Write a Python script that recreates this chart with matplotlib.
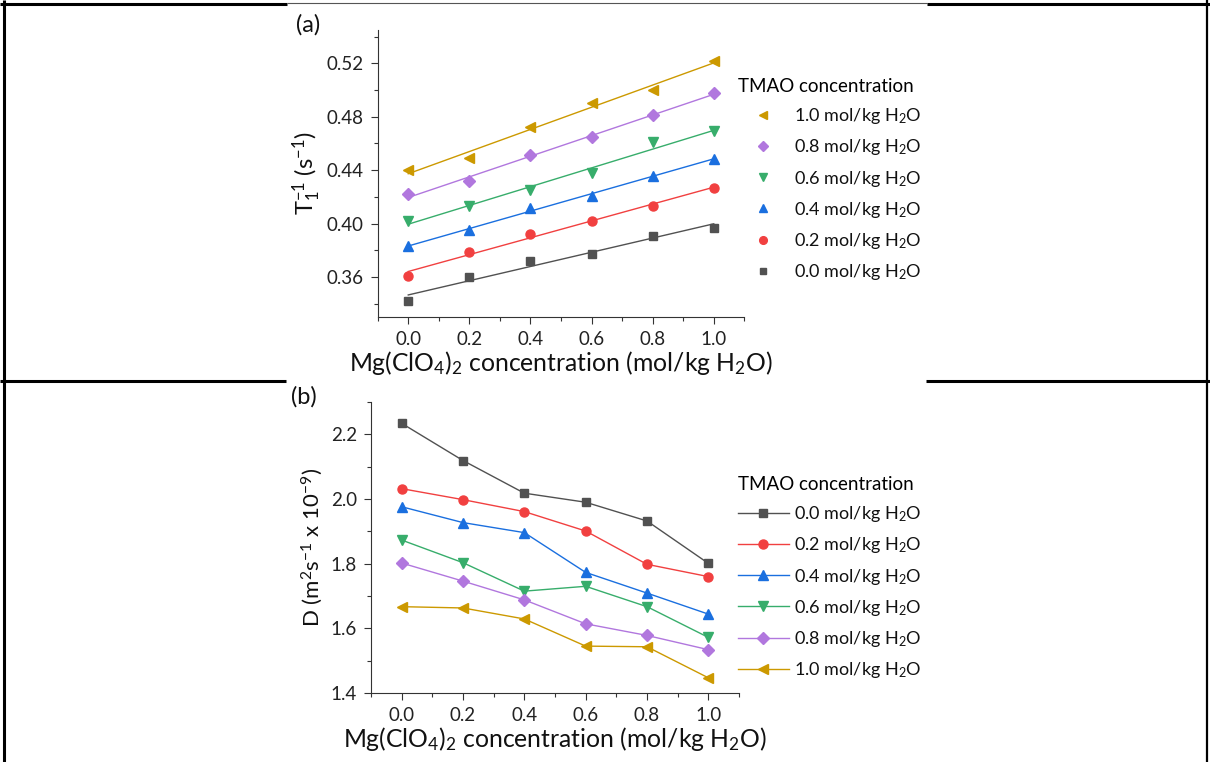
import numpy as np
import matplotlib.pyplot as plt
from matplotlib.lines import Line2D
from matplotlib.ticker import MultipleLocator, FormatStrFormatter

plt.rcParams['font.family'] = ['Lato', 'DejaVu Sans']
plt.rcParams['mathtext.fontset'] = 'custom'
plt.rcParams['mathtext.rm'] = 'Lato'
plt.rcParams['mathtext.it'] = 'Lato:italic'
plt.rcParams['mathtext.bf'] = 'Lato:bold'

# Mg(ClO4)2 concentration, mol/kg H2O
mg = [0.0, 0.2, 0.4, 0.6, 0.8, 1.0]
tmao = ['0.0', '0.2', '0.4', '0.6', '0.8', '1.0']

# (a) relaxation rate T1^-1 (s^-1), one list per TMAO concentration
t1_tmao00 = [0.342, 0.360, 0.372, 0.377, 0.391, 0.397]
t1_tmao02 = [0.361, 0.379, 0.392, 0.402, 0.413, 0.427]
t1_tmao04 = [0.383, 0.395, 0.412, 0.421, 0.436, 0.448]
t1_tmao06 = [0.402, 0.413, 0.425, 0.438, 0.461, 0.469]
t1_tmao08 = [0.422, 0.432, 0.451, 0.465, 0.481, 0.498]
t1_tmao10 = [0.440, 0.449, 0.472, 0.490, 0.500, 0.522]

# (b) diffusion coefficient D (m^2 s^-1 x 10^-9)
d_tmao00 = [2.234, 2.119, 2.018, 1.990, 1.932, 1.801]
d_tmao02 = [2.032, 1.998, 1.961, 1.901, 1.798, 1.760]
d_tmao04 = [1.976, 1.927, 1.896, 1.773, 1.709, 1.644]
d_tmao06 = [1.873, 1.803, 1.715, 1.730, 1.667, 1.572]
d_tmao08 = [1.802, 1.746, 1.688, 1.614, 1.578, 1.534]
d_tmao10 = [1.667, 1.663, 1.629, 1.545, 1.543, 1.447]

t1_all = [t1_tmao00, t1_tmao02, t1_tmao04, t1_tmao06, t1_tmao08, t1_tmao10]
d_all = [d_tmao00, d_tmao02, d_tmao04, d_tmao06, d_tmao08, d_tmao10]

# origin-ish default palette
colors = ['#515151', '#F14040', '#1A6FDF', '#37AD6B', '#B177DE', '#CC9900']
markers = ['s', 'o', '^', 'v', 'D', '<']
msizes = [5.5, 6.5, 7.5, 7.5, 6.0, 7.5]

W, H = 1210, 762
fig = plt.figure(figsize=(W / 100, H / 100), dpi=100)


def fx(px):
    return px / W


def fy(py):
    return 1 - py / H


ax1 = fig.add_axes([fx(377.7), fy(317), fx(744.3) - fx(377.7), (317 - 30) / H])
ax2 = fig.add_axes([fx(371), fy(693), fx(739) - fx(371), (693 - 402) / H])

xlabel = 'Mg(ClO$_4$)$_2$ concentration (mol/kg H$_2$O)'

for ax in (ax1, ax2):
    for s in ('top', 'right'):
        ax.spines[s].set_visible(False)
    for s in ('left', 'bottom'):
        ax.spines[s].set_color('#333333')
        ax.spines[s].set_linewidth(0.8)
    ax.set_xlim(-0.1, 1.1)
    ax.xaxis.set_major_locator(MultipleLocator(0.2))
    ax.xaxis.set_minor_locator(MultipleLocator(0.1))
    ax.xaxis.set_major_formatter(FormatStrFormatter('%.1f'))
    ax.tick_params(which='major', length=5, width=0.8, color='#333333',
                   labelsize=13.5, pad=5, labelcolor='#222222')
    ax.tick_params(which='minor', length=3, width=0.8, color='#333333')
    ax.set_xlabel(xlabel, fontsize=17.8, labelpad=1, color='#111111')

# (a) points + linear fits
x = np.array(mg)
h1 = []
for i in range(6):
    y = np.array(t1_all[i])
    k, b = np.polyfit(x, y, 1)
    ax1.plot([x[0], x[-1]], [k * x[0] + b, k * x[-1] + b], color=colors[i], lw=1.0)
    ax1.plot(x, y, linestyle='none', marker=markers[i], ms=msizes[i],
             color=colors[i], mec=colors[i])
    h1.append(Line2D([], [], linestyle='none', marker=markers[i], ms=msizes[i] * 0.85,
                     color=colors[i], label=tmao[i] + ' mol/kg H$_2$O'))

ax1.set_ylim(0.33, 0.545)
ax1.yaxis.set_major_locator(MultipleLocator(0.04))
ax1.yaxis.set_minor_locator(MultipleLocator(0.02))
ax1.yaxis.set_major_formatter(FormatStrFormatter('%.2f'))
ax1.set_ylim(0.33, 0.545)
ax1.set_ylabel('T$_1^{-1}$ (s$^{-1}$)', fontsize=17, labelpad=3, color='#111111')

# (b) connected points
h2 = []
for i in range(6):
    ln, = ax2.plot(mg, d_all[i], color=colors[i], lw=1.0, marker=markers[i],
                   ms=msizes[i], mec=colors[i],
                   label=tmao[i] + ' mol/kg H$_2$O')
    h2.append(ln)

ax2.set_ylim(1.4, 2.3)
ax2.yaxis.set_major_locator(MultipleLocator(0.2))
ax2.yaxis.set_minor_locator(MultipleLocator(0.1))
ax2.yaxis.set_major_formatter(FormatStrFormatter('%.1f'))
ax2.set_ylim(1.4, 2.3)
ax2.set_ylabel('D (m$^2$s$^{-1}$ x 10$^{-9}$)', fontsize=16, labelpad=4, color='#111111')

leg_kw = dict(loc='upper left', bbox_transform=fig.transFigure, frameon=False,
              fontsize=13, title='TMAO concentration', title_fontsize=13.5,
              handlelength=2.8, handletextpad=0.3, labelspacing=0.62,
              borderpad=0, borderaxespad=0, alignment='left', labelcolor='#111111')
ax1.legend(handles=h1[::-1], bbox_to_anchor=(fx(738), fy(78)), **leg_kw)
ax2.legend(handles=h2, bbox_to_anchor=(fx(738), fy(476)), **leg_kw)

fig.text(fx(296), fy(25), '(a)', fontsize=17, va='center', ha='left', color='#111111')
fig.text(fx(291), fy(397), '(b)', fontsize=17, va='center', ha='left', color='#111111')

# table borders around the two images
def hline(x0, x1, y, lw, c='black'):
    fig.add_artist(Line2D([fx(x0), fx(x1)], [fy(y), fy(y)], transform=fig.transFigure,
                          color=c, lw=lw, solid_capstyle='butt'))


def vline(xp, y0, y1, lw, c='black'):
    fig.add_artist(Line2D([fx(xp), fx(xp)], [fy(y0), fy(y1)], transform=fig.transFigure,
                          color=c, lw=lw, solid_capstyle='butt'))


hline(0, 287, 3.5, 2.2)
hline(287, 927, 3, 0.8, '#555555')
hline(927, W, 3.5, 2.2)
hline(0, 286, 381, 2.2)
hline(926, W, 381, 2.2)
vline(3.5, 0, H, 2.2)
vline(1207, 0, H, 1.6)

fig.savefig('out.png', dpi=100)
